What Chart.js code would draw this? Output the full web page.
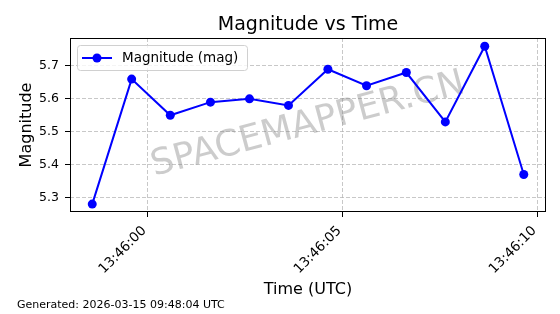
<!DOCTYPE html>
<html lang="en">
<head>
<meta charset="UTF-8">
<title>Magnitude vs Time</title>
<script src="https://cdn.jsdelivr.net/npm/chart.js"></script>
<style>
  html, body { margin: 0; padding: 0; background: #fff; }
  canvas { display: block; }
</style>
</head>
<body>
<canvas id="magChart" width="560" height="314"></canvas>
<script>
  // data (UTC times, magnitude)
  const times = ['13:45:58.59', '13:45:59.60', '13:46:00.59', '13:46:01.62', '13:46:02.62', '13:46:03.62',
                 '13:46:04.63', '13:46:05.62', '13:46:06.64', '13:46:07.64', '13:46:08.65', '13:46:09.65'];
  const magnitudes = [5.28, 5.66, 5.55, 5.59, 5.60, 5.58, 5.69, 5.64, 5.68, 5.53, 5.76, 5.37];
  const xTickLabels = ['13:46:00', '13:46:05', '13:46:10'];
  const yTickValues = [5.3, 5.4, 5.5, 5.6, 5.7];
  const chartTitle = 'Magnitude vs Time';
  const seriesLabel = 'Magnitude (mag)';
  const footerText = 'Generated: 2026-03-15 09:48:04 UTC';
  const watermarkText = 'SPACEMAPPER.CN';

  const FONT = '"DejaVu Sans", Verdana, sans-serif';

  function toSec(t) {
    const p = t.split(':');
    return (+p[0]) * 3600 + (+p[1]) * 60 + (+p[2]);
  }
  function fmtSec(v) {
    const s = Math.round(v);
    const pad = n => String(n).padStart(2, '0');
    return pad(Math.floor(s / 3600)) + ':' + pad(Math.floor(s / 60) % 60) + ':' + pad(s % 60);
  }

  const points = times.map((t, i) => ({ x: toSec(t), y: magnitudes[i] }));

  // title over the axes, watermark, frame, in-axes legend and footer
  const extras = {
    id: 'extras',
    beforeDatasetsDraw(chart) {
      const { ctx, chartArea: a } = chart;
      ctx.save();
      ctx.translate((a.left + a.right) / 2, (a.top + a.bottom) / 2);
      ctx.rotate(-15 * Math.PI / 180);
      ctx.font = '36px ' + FONT;
      ctx.fillStyle = 'rgba(128,128,128,0.4)';
      ctx.textAlign = 'center';
      ctx.textBaseline = 'middle';
      ctx.fillText(watermarkText, 0, 0);
      ctx.restore();
    },
    afterDatasetsDraw(chart) {
      const { ctx, chartArea: a } = chart;
      ctx.save();
      // frame
      ctx.strokeStyle = '#000';
      ctx.lineWidth = 1;
      ctx.strokeRect(a.left + 0.5, a.top + 0.5, a.right - a.left - 1, a.bottom - a.top - 1);

      // legend box
      const ds = chart.data.datasets[0];
      const bx = a.left + 7, by = a.top + 7, bw = 170, bh = 25;
      ctx.beginPath();
      ctx.roundRect(bx + 0.5, by + 0.5, bw, bh, 3);
      ctx.fillStyle = 'rgba(255,255,255,0.8)';
      ctx.fill();
      ctx.strokeStyle = '#d0d0d0';
      ctx.stroke();
      const ly = by + bh / 2 + 0.5;
      ctx.beginPath();
      ctx.moveTo(bx + 5, ly);
      ctx.lineTo(bx + 35, ly);
      ctx.strokeStyle = ds.borderColor;
      ctx.lineWidth = 2;
      ctx.stroke();
      ctx.beginPath();
      ctx.arc(bx + 20, ly, 4.5, 0, Math.PI * 2);
      ctx.fillStyle = ds.pointBackgroundColor;
      ctx.fill();
      ctx.font = '13.5px ' + FONT;
      ctx.fillStyle = '#000';
      ctx.textBaseline = 'middle';
      ctx.textAlign = 'left';
      ctx.fillText(ds.label, bx + 45, ly);
      ctx.restore();
    },
    afterDraw(chart) {
      const { ctx, chartArea: a } = chart;
      ctx.save();
      ctx.fillStyle = '#000';
      ctx.font = '19px ' + FONT;
      ctx.textAlign = 'center';
      ctx.textBaseline = 'alphabetic';
      ctx.fillText(chartTitle, (a.left + a.right) / 2, 30);

      ctx.font = '11px ' + FONT;
      ctx.textAlign = 'left';
      ctx.fillText(footerText, 17, 308);
      ctx.restore();
    }
  };

  const gridCommon = {
    color: 'rgba(176,176,176,0.7)',
    lineWidth: 1,
    drawTicks: true,
    tickLength: 5,
    tickColor: '#000',
    tickWidth: 1,
    tickBorderDash: []
  };

  new Chart(document.getElementById('magChart'), {
    type: 'line',
    data: {
      datasets: [{
        label: seriesLabel,
        data: points,
        borderColor: '#0000ff',
        backgroundColor: '#0000ff',
        pointBackgroundColor: '#0000ff',
        pointBorderColor: '#0000ff',
        borderWidth: 2,
        pointRadius: 4.5,
        pointBorderWidth: 0,
        tension: 0,
        fill: false
      }]
    },
    options: {
      responsive: false,
      animation: false,
      devicePixelRatio: 1,
      layout: { padding: { left: 0, right: 14, top: 38, bottom: 0 } },
      plugins: {
        legend: { display: false },
        tooltip: { enabled: false },
        title: { display: false }
      },
      scales: {
        x: {
          type: 'linear',
          min: 49558.02,
          max: 49570.22,
          afterBuildTicks(scale) { scale.ticks = xTickLabels.map(t => ({ value: toSec(t) })); },
          afterFit(scale) { scale.height = 102; },
          ticks: {
            color: '#000',
            font: { family: FONT, size: 13.5 },
            maxRotation: 45,
            minRotation: 45,
            padding: 6,
            labelOffset: -3,
            autoSkip: false,
            callback: v => fmtSec(v)
          },
          grid: gridCommon,
          border: { display: false, dash: [4, 2] },
          title: {
            display: true,
            text: 'Time (UTC)',
            color: '#000',
            font: { family: FONT, size: 16, lineHeight: 1.2 },
            padding: { top: 0, bottom: 15 }
          }
        },
        y: {
          type: 'linear',
          min: 5.256,
          max: 5.785,
          afterBuildTicks(scale) { scale.ticks = yTickValues.map(v => ({ value: v })); },
          afterFit(scale) { scale.width = 70; },
          ticks: {
            color: '#000',
            font: { family: FONT, size: 12.5 },
            padding: 6,
            callback: v => v.toFixed(1)
          },
          grid: gridCommon,
          border: { display: false, dash: [4, 2] },
          title: {
            display: true,
            text: 'Magnitude',
            color: '#000',
            font: { family: FONT, size: 16, lineHeight: 1.2 },
            padding: { top: 17, bottom: 0 }
          }
        }
      }
    },
    plugins: [extras]
  });
</script>
</body>
</html>
